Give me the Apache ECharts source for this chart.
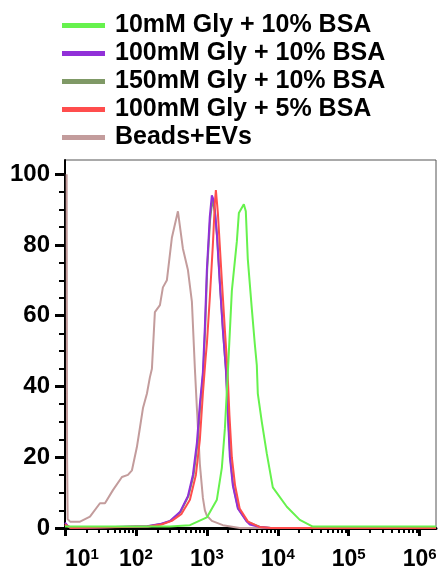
<!DOCTYPE html>
<html>
<head>
<meta charset="utf-8">
<script src="https://cdn.jsdelivr.net/npm/echarts@6/dist/echarts.min.js"></script>
<style>
  html, body { margin: 0; padding: 0; background: #fff; }
  #chart { width: 446px; height: 576px; }
</style>
</head>
<body>
<div id="chart"></div>
<script>
// legend / series names
const seriesNames = [
  '10mM Gly + 10% BSA',
  '100mM Gly + 10% BSA',
  '150mM Gly + 10% BSA',
  '100mM Gly + 5% BSA',
  'Beads+EVs'
];
const seriesColors = ['#66f24d', '#9130d8', '#7f9966', '#ff4d4d', '#c39c9c'];

// [fluorescence, count]
const gly10Bsa10 = [
  [10, 0.4], [300, 0.4], [577, 0.8], [1000, 3], [1384, 8], [1626, 17], [1794, 28],
  [1977, 44], [2250, 67], [2647, 81], [2826, 89], [3114, 90.5], [3321, 91.5],
  [3540, 89.5], [3777, 76], [4302, 62], [4742, 52], [5060, 46], [5227, 38],
  [5951, 30], [7000, 21], [8506, 11.5], [13400, 6], [20430, 2.3], [31100, 0.4],
  [50000, 0.4], [1700000, 0.4]
];
const gly100Bsa10 = [
  [10, 1.5], [11, 0.5], [13, 0], [143, 0.5], [218, 1.1], [301, 2], [417, 4.5],
  [540, 9], [635, 15], [723, 24], [797, 35], [879, 44], [938, 57], [1000, 73],
  [1100, 88], [1175, 94], [1230, 93], [1297, 90], [1384, 83], [1525, 69], [1680, 56],
  [1852, 45], [1977, 32], [2110, 20], [2325, 12], [2735, 5.5], [3656, 1.8],
  [4035, 1], [5570, 0.3], [8000, 0], [1700000, 0]
];
const gly150Bsa10 = [
  [10, 1], [12, 0], [150, 0.5], [225, 1.1], [310, 2], [425, 4.5], [550, 9],
  [650, 15], [740, 24], [810, 35], [890, 44], [950, 57], [1010, 73], [1110, 87],
  [1200, 93], [1300, 89], [1400, 82], [1540, 68], [1700, 55], [1870, 44],
  [2000, 31], [2140, 20], [2350, 12], [2760, 5.5], [3700, 1.8], [5600, 0.3],
  [8000, 0], [1700000, 0]
];
const gly100Bsa5 = [
  [10, 1], [12, 0], [150, 0.4], [230, 1], [320, 2], [440, 4], [577, 8], [700, 15],
  [797, 25], [879, 38], [960, 48], [1000, 52], [1100, 65], [1215, 80], [1297, 92],
  [1340, 95.5], [1430, 89], [1626, 70], [1794, 56], [1950, 45], [2080, 32],
  [2250, 20], [2500, 12], [2900, 5.5], [3800, 1.8], [5500, 0.3], [8000, 0],
  [1700000, 0]
];
const beadsEvs = [
  [10.55, 100], [10.7, 20], [10.9, 2.5], [11.8, 1.8], [16.3, 1.8], [22.5, 3.2], [31.1, 7],
  [36.6, 7], [47.4, 10.7], [63.5, 14.4], [77.1, 15], [87.9, 16.3], [103, 22.8],
  [114, 28.4], [126, 34], [143, 38], [157, 42.5], [168, 45], [185, 61], [218, 63],
  [240, 68], [273, 70], [321, 82], [391, 89.5], [459, 79], [540, 73], [615, 64],
  [678, 45], [723, 34], [797, 18], [879, 8.5], [938, 5], [1000, 3.5], [1175, 2],
  [1680, 0.8], [2900, 0], [1700000, 0]
];
const seriesData = [gly10Bsa10, gly100Bsa10, gly150Bsa10, gly100Bsa5, beadsEvs];

// axis ticks
const xMajorTicks = [10, 100, 1000, 10000, 100000, 1000000];
const xMinorTicks = [];
for (let d = 10; d < 1000000; d *= 10) {
  for (let k = 2; k <= 9; k++) xMinorTicks.push(d * k);
}
const yMajorTicks = [0, 20, 40, 60, 80, 100];
const yMinorTicks = [5, 10, 15, 25, 30, 35, 45, 50, 55, 65, 70, 75, 85, 90, 95];

const FONT = '"Liberation Sans", Arial, sans-serif';
const chart = echarts.init(document.getElementById('chart'));

// green sits on top of the others
const seriesZ = [5, 3, 2, 4, 1];

const option = {
  animation: false,
  legend: {
    orient: 'vertical',
    left: 62,
    top: 13,
    padding: 0,
    icon: 'rect',
    itemWidth: 43,
    itemHeight: 5,
    itemGap: 3,
    selectedMode: false,
    data: seriesNames,
    textStyle: {
      fontFamily: FONT,
      fontSize: 25,
      fontWeight: 'bold',
      lineHeight: 24,
      color: '#000',
      padding: [0, 0, 0, 5]
    }
  },
  grid: {
    left: 65,
    right: 10,
    top: 160,
    bottom: 48,
    show: true,
    borderColor: '#555',
    borderWidth: 1
  },
  xAxis: [
    {
      type: 'log',
      logBase: 10,
      min: 10,
      max: 1700000,
      position: 'bottom',
      axisLine: { show: true, onZero: false, lineStyle: { color: '#000', width: 3 } },
      axisTick: { show: true, customValues: xMajorTicks, length: 8, lineStyle: { color: '#000', width: 3 } },
      axisLabel: {
        customValues: xMajorTicks,
        margin: 19,
        alignMinLabel: 'left',
        formatter: function (v) {
          return '{b|10}{s|' + Math.round(Math.log10(v)) + '}';
        },
        rich: {
          b: { fontFamily: FONT, fontSize: 23, fontWeight: 'bold', lineHeight: 26, color: '#000' },
          s: { fontFamily: FONT, fontSize: 15, fontWeight: 'bold', lineHeight: 20, verticalAlign: 'top', color: '#000' }
        }
      },
      splitLine: { show: false },
      minorTick: { show: false }
    },
    {
      type: 'log',
      logBase: 10,
      min: 10,
      max: 1700000,
      position: 'bottom',
      axisLine: { show: false },
      axisTick: { show: true, customValues: xMinorTicks, length: 5, lineStyle: { color: '#000', width: 2 } },
      axisLabel: { show: false },
      splitLine: { show: false }
    }
  ],
  yAxis: [
    {
      type: 'value',
      min: 0,
      max: 104,
      position: 'left',
      axisLine: { show: true, onZero: false, lineStyle: { color: '#000', width: 2 } },
      axisTick: { show: true, customValues: yMajorTicks, length: 10, lineStyle: { color: '#000', width: 3 } },
      axisLabel: {
        customValues: yMajorTicks,
        margin: 15,
        fontFamily: FONT,
        fontSize: 24,
        fontWeight: 'bold',
        color: '#000'
      },
      splitLine: { show: false }
    },
    {
      type: 'value',
      min: 0,
      max: 104,
      position: 'left',
      axisLine: { show: false },
      axisTick: { show: true, customValues: yMinorTicks, length: 6, lineStyle: { color: '#000', width: 2 } },
      axisLabel: { show: false },
      splitLine: { show: false }
    }
  ],
  series: seriesNames.map(function (name, i) {
    return {
      name: name,
      type: 'line',
      xAxisIndex: 0,
      yAxisIndex: 0,
      data: seriesData[i],
      color: seriesColors[i],
      showSymbol: false,
      symbol: 'none',
      z: seriesZ[i],
      lineStyle: { width: 2, color: seriesColors[i] }
    };
  })
};

chart.setOption(option);
</script>
</body>
</html>
